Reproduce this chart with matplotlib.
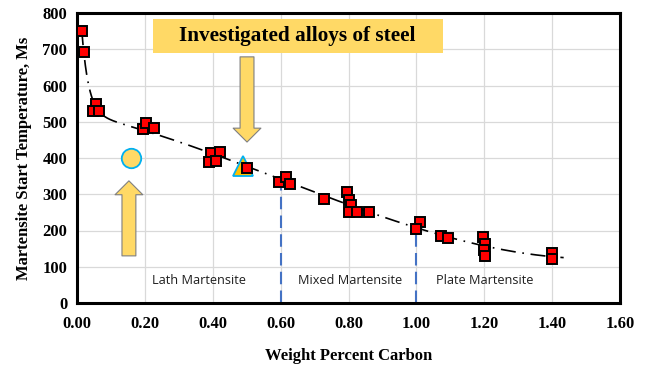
import numpy as np
import matplotlib
matplotlib.use("Agg")
import matplotlib.pyplot as plt
from matplotlib.patches import Rectangle

# Measured Ms temperatures vs carbon content
carbon = [0.014, 0.021, 0.055, 0.046, 0.065, 0.194, 0.204, 0.227,
          0.395, 0.420, 0.389, 0.410, 0.500, 0.596, 0.617, 0.629,
          0.727, 0.797, 0.802, 0.807, 0.802, 0.825, 0.860,
          1.012, 1.000, 1.072, 1.094, 1.195, 1.201, 1.198, 1.201,
          1.399, 1.399]
ms_temp = [751, 693, 549, 530, 530, 480, 496, 484,
           415, 417, 389, 391, 372, 335, 347, 327,
           287, 305, 285, 269, 250, 252, 252,
           223, 203, 184, 179, 181, 163, 147, 130,
           138, 121]

# Investigated alloys
alloy_circle = (0.16, 400)
alloy_triangle = (0.49, 379)

# Region boundaries (wt% C)
boundaries = [0.6, 1.0]
regions = ["Lath Martensite", "Mixed Martensite", "Plate Martensite"]
region_x = [0.36, 0.805, 1.2]
region_y = 63

xticks = [0.0, 0.2, 0.4, 0.6, 0.8, 1.0, 1.2, 1.4, 1.6]
yticks = [0, 100, 200, 300, 400, 500, 600, 700, 800]

serif = ["Liberation Serif", "DejaVu Serif"]

x = np.array(carbon)
y = np.array(ms_temp)

# Trend line: cubic plus a fast exponential decay near zero carbon
def basis(v):
    v = np.atleast_1d(np.asarray(v, dtype=float))
    return np.column_stack([np.ones_like(v), v, v**2, v**3, np.exp(-v / 0.02)])

coef, *_ = np.linalg.lstsq(basis(x), y, rcond=None)
xs = np.linspace(x.min(), x.max() + 0.035, 400)
ys = basis(xs) @ coef

fig = plt.figure(figsize=(6.46, 3.70), dpi=100)
ax = fig.add_axes([77 / 646, 1 - 303 / 370, 543 / 646, 290 / 370])

ax.set_xlim(0, 1.6)
ax.set_ylim(0, 800)
ax.set_xticks(xticks)
ax.set_yticks(yticks)
ax.set_xticklabels([f"{t:.2f}" for t in xticks])
ax.set_yticklabels([str(t) for t in yticks])
ax.grid(True, color="#d9d9d9", lw=0.9)
ax.set_axisbelow(True)
ax.tick_params(length=0)
ax.tick_params(axis="x", pad=9)
ax.tick_params(axis="y", pad=7)
for lab in ax.get_xticklabels() + ax.get_yticklabels():
    lab.set_fontfamily(serif)
    lab.set_fontweight("bold")
    lab.set_fontsize(12)
for sp in ax.spines.values():
    sp.set_linewidth(2.2)
    sp.set_color("black")

# Trend line
ax.plot(xs, ys, color="black", lw=1.2, ls=(0, (9, 4, 1, 4)), zorder=3)

# Boundary lines up to the trend curve
for b in boundaries:
    top = float((basis(b) @ coef)[0])
    ax.plot([b, b], [0, top], color="#4472c4", lw=1.5, ls=(0, (6, 3)), zorder=2)

# Data points
ax.plot(x, y, ls="none", marker="s", ms=7.2, mfc="#ff0000", mec="black",
        mew=1.4, zorder=5)

# Investigated alloys
ax.plot(*alloy_circle, marker="o", ms=14, mfc="#ffd966", mec="#00b0f0",
        mew=1.3, zorder=4)
ax.plot(*alloy_triangle, marker="^", ms=15, mfc="#ffc000", mec="#00b0f0",
        mew=1.3, zorder=4)

# Arrows pointing at the alloys
arrow_kw = dict(arrowstyle="simple,head_length=0.5,head_width=1.0,tail_width=0.5",
                fc="#ffd966", ec="#7f7f7f", lw=0.8, shrinkA=0, shrinkB=0,
                mutation_scale=20)
ax.annotate("", xy=(0.153, 337), xytext=(0.153, 130), arrowprops=arrow_kw, zorder=4)
ax.annotate("", xy=(0.501, 444), xytext=(0.501, 679), arrowprops=arrow_kw, zorder=4)

# Title banner
ax.add_patch(Rectangle((0.224, 690), 0.853, 93, facecolor="#ffd966",
                       edgecolor="none", zorder=4))
ax.text(0.65, 737, "Investigated alloys of steel", ha="center", va="center",
        fontfamily=serif, fontweight="bold", fontsize=15.3, zorder=5)

# Region labels
for name, rx in zip(regions, region_x):
    ax.text(rx, region_y, name, ha="center", va="center",
            fontfamily=["Open Sans", "DejaVu Sans"], fontsize=9.2, color="#1f1f1f")

ax.set_xlabel("Weight Percent Carbon", fontfamily=serif, fontweight="bold",
              fontsize=12, va="center")
ax.set_ylabel("Martensite Start Temperature, Ms", fontfamily=serif,
              fontweight="bold", fontsize=12, va="center")
ax.xaxis.set_label_coords(272 / 543, -53 / 290)
ax.yaxis.set_label_coords(-53 / 543, 0.5)

fig.savefig("out.png", dpi=100)
